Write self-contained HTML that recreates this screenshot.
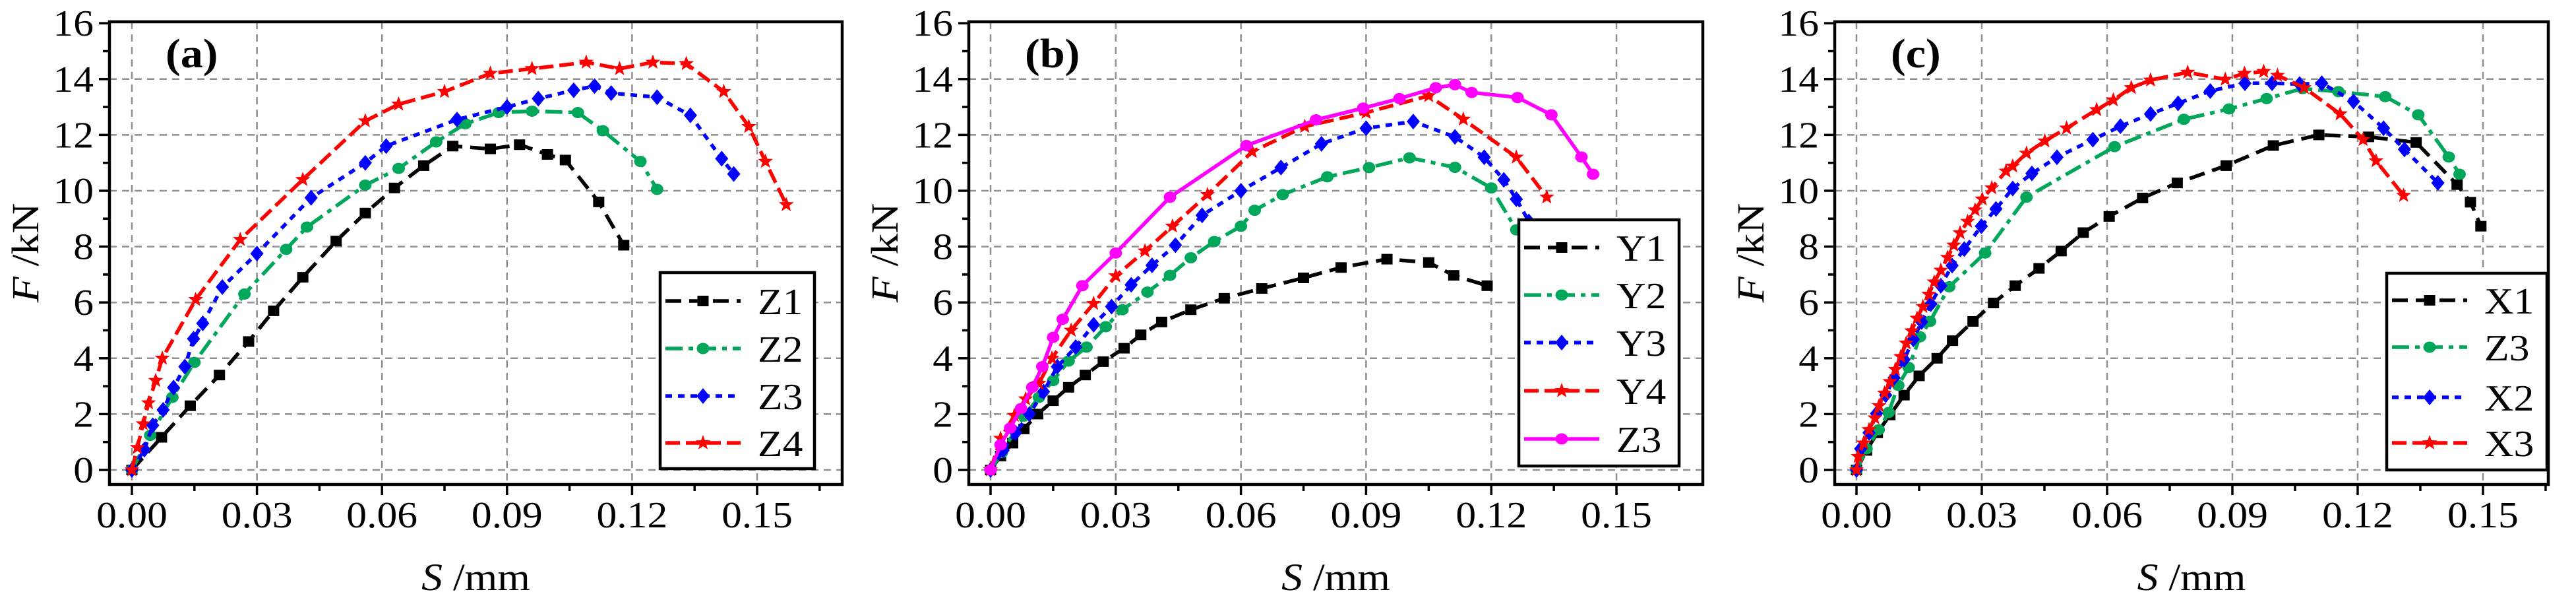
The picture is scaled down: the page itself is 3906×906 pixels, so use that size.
<!DOCTYPE html>
<html><head><meta charset="utf-8"><style>
html,body{margin:0;padding:0;background:#fff;}
svg{display:block;}
text{font-family:"Liberation Serif","Times New Roman",serif;fill:#000;}
</style></head><body>
<svg id="chart" width="3906" height="906" viewBox="0 0 3906 906" xmlns="http://www.w3.org/2000/svg" font-family="Liberation Serif, serif"></svg>
<script>
// ---------- data ----------
const xTickLabels = ["0.00","0.03","0.06","0.09","0.12","0.15"];
const xTickValues = [0,0.03,0.06,0.09,0.12,0.15];
const yTickValues = [0,2,4,6,8,10,12,14,16];
const yTickLabels = ["0","2","4","6","8","10","12","14","16"];

// panel (a)
const aZ1x=[0,0.0071,0.014,0.021,0.028,0.034,0.041,0.049,0.056,0.063,0.070,0.077,0.086,0.093,0.0997,0.104,0.112,0.118];
const aZ1y=[0,1.17,2.3,3.4,4.6,5.7,6.9,8.2,9.2,10.1,10.9,11.6,11.5,11.65,11.3,11.1,9.6,8.05];
const aZ2x=[0,0.0044,0.0097,0.015,0.027,0.037,0.042,0.056,0.064,0.073,0.080,0.088,0.096,0.107,0.113,0.122,0.126];
const aZ2y=[0,1.24,2.6,3.85,6.3,7.9,8.7,10.2,10.8,11.75,12.4,12.8,12.85,12.8,12.15,11.05,10.05];
const aZ3x=[0,0.003,0.005,0.0075,0.010,0.0127,0.0148,0.017,0.0217,0.030,0.043,0.056,0.061,0.078,0.090,0.0975,0.106,0.111,0.115,0.126,0.134,0.1415,0.1444];
const aZ3y=[0,0.73,1.6,2.15,2.95,3.7,4.7,5.25,6.55,7.75,9.75,11.0,11.6,12.55,13.0,13.3,13.6,13.75,13.5,13.35,12.7,11.15,10.6];
const aZ4x=[0,0.0013,0.0027,0.004,0.0057,0.0073,0.0153,0.026,0.041,0.056,0.064,0.075,0.086,0.096,0.109,0.117,0.125,0.133,0.142,0.148,0.152,0.157];
const aZ4y=[0,0.8,1.65,2.4,3.2,4.0,6.1,8.25,10.4,12.5,13.1,13.55,14.2,14.37,14.6,14.37,14.6,14.55,13.55,12.3,11.05,9.5];

// panel (b)
const bY1x=[0,0.0024,0.0053,0.008,0.0113,0.015,0.0187,0.0227,0.027,0.032,0.036,0.041,0.048,0.056,0.065,0.075,0.084,0.095,0.105,0.111,0.119];
const bY1y=[0,0.5,0.96,1.47,2.0,2.48,2.96,3.4,3.88,4.36,4.84,5.3,5.74,6.15,6.5,6.88,7.25,7.55,7.43,6.97,6.6];
const bY2x=[0,0.0027,0.008,0.0116,0.015,0.0187,0.023,0.0276,0.0316,0.0376,0.043,0.048,0.0536,0.060,0.0633,0.070,0.0807,0.0907,0.1004,0.1113,0.12,0.126];
const bY2y=[0,0.62,1.93,2.6,3.2,3.9,4.4,5.13,5.74,6.37,6.97,7.6,8.18,8.73,9.3,9.86,10.5,10.83,11.18,10.84,10.1,8.6];
const bY3x=[0,0.003,0.006,0.0093,0.0127,0.016,0.0204,0.0247,0.029,0.0337,0.0387,0.0443,0.0507,0.060,0.0696,0.0793,0.090,0.1013,0.1113,0.1183,0.123,0.126,0.129];
const bY3y=[0,0.7,1.33,2.0,2.8,3.7,4.4,5.2,5.85,6.63,7.33,8.05,9.12,10.0,10.83,11.68,12.24,12.48,11.93,11.2,10.39,9.7,8.9];
const bY4x=[0,0.0024,0.0057,0.0084,0.0116,0.0147,0.0193,0.0247,0.030,0.037,0.0436,0.052,0.0627,0.0753,0.090,0.105,0.1133,0.126,0.1333];
const bY4y=[0,1.13,1.95,2.54,3.1,4.0,5.0,5.96,6.95,7.84,8.73,9.86,11.4,12.3,12.8,13.4,12.56,11.2,9.77];
const bZ3x=[0,0.0024,0.0047,0.0073,0.01,0.0124,0.015,0.0173,0.022,0.030,0.043,0.0613,0.078,0.0893,0.098,0.1067,0.1113,0.1153,0.1263,0.1344,0.1416,0.1444];
const bZ3y=[0,0.9,1.5,2.2,2.96,3.7,4.75,5.4,6.6,7.77,9.77,11.62,12.54,12.96,13.3,13.69,13.8,13.52,13.34,12.72,11.21,10.59];

// panel (c)
const cX1x=[0,0.0024,0.005,0.008,0.0114,0.015,0.0193,0.023,0.0279,0.0328,0.038,0.0437,0.049,0.0543,0.0605,0.0685,0.0768,0.0885,0.0998,0.1107,0.1226,0.134,0.1438,0.147,0.1495];
const cX1y=[0,0.7,1.33,1.97,2.68,3.37,4.0,4.63,5.32,5.98,6.6,7.22,7.84,8.5,9.08,9.74,10.28,10.9,11.62,12.0,11.93,11.73,10.22,9.59,8.73];
const cZ3x=[0,0.0024,0.0053,0.0077,0.01,0.0125,0.0152,0.0176,0.0222,0.0308,0.0407,0.0618,0.0784,0.0892,0.0982,0.1068,0.1154,0.1266,0.1345,0.1418,0.1444];
const cZ3y=[0,0.76,1.44,2.06,3.03,3.67,4.77,5.32,6.56,7.77,9.77,11.58,12.56,12.93,13.3,13.66,13.55,13.37,12.72,11.21,10.59];
const cX2x=[0,0.001,0.003,0.0048,0.007,0.009,0.0114,0.0136,0.0156,0.0178,0.0202,0.0229,0.0258,0.0299,0.0334,0.0374,0.042,0.048,0.0566,0.0632,0.0704,0.077,0.0847,0.093,0.0995,0.1061,0.1114,0.119,0.1262,0.1312,0.1392];
const cX2y=[0,0.76,1.33,2.02,2.68,3.3,3.95,4.68,5.3,5.94,6.6,7.32,7.91,8.73,9.35,10.08,10.62,11.2,11.83,12.31,12.75,13.13,13.57,13.85,13.85,13.82,13.85,13.2,12.24,11.48,10.28];
const cX3x=[0,0.0004,0.0017,0.003,0.0044,0.0054,0.0067,0.008,0.0093,0.0106,0.0119,0.0132,0.0145,0.0159,0.0173,0.0186,0.0202,0.0218,0.0233,0.0248,0.0266,0.0284,0.0301,0.0324,0.0358,0.0374,0.0407,0.0451,0.0503,0.0575,0.0615,0.0658,0.0704,0.0793,0.0883,0.0929,0.0975,0.1008,0.1072,0.1158,0.1213,0.1244,0.131];
const cX3y=[0,0.48,0.96,1.44,1.86,2.3,2.75,3.16,3.6,4.06,4.54,4.98,5.43,5.85,6.29,6.73,7.15,7.61,8.05,8.49,8.9,9.31,9.7,10.1,10.7,10.88,11.34,11.78,12.24,12.9,13.25,13.69,13.96,14.24,13.99,14.2,14.27,14.13,13.69,12.75,11.83,11.07,9.83];

// ---------- rendering ----------
const NS="http://www.w3.org/2000/svg";
const svg=document.getElementById('chart');
function mk(tag,attrs,parent){const e=document.createElementNS(NS,tag);for(const k in attrs)e.setAttribute(k,attrs[k]);(parent||svg).appendChild(e);return e;}

const STY={
 black:{color:'#000',dash:'24,12',marker:'square'},
 green:{color:'#00a65a',dash:'26,9,7,9',marker:'circle'},
 blue:{color:'#0000ff',dash:'10,9',marker:'diamond'},
 red:{color:'#ff0000',dash:'22,9',marker:'star'},
 magenta:{color:'#ff00ff',dash:'',marker:'circle'}
};
function marker(g,type,cx,cy,color){
 let e;
 if(type==='square'){e=mk('rect',{x:cx-8.5,y:cy-8,width:17,height:16,fill:color},g);}
 else if(type==='circle'){e=mk('ellipse',{cx:cx,cy:cy,rx:9.5,ry:8.5,fill:color},g);}
 else if(type==='diamond'){e=mk('polygon',{points:`${cx},${cy-12} ${cx+10},${cy} ${cx},${cy+12} ${cx-10},${cy}`,fill:color},g);}
 else {let p=[];for(let i=0;i<10;i++){const r=i%2?5:12;const a=-Math.PI/2+i*Math.PI/5;p.push((cx+r*Math.cos(a)).toFixed(1)+','+(cy+r*Math.sin(a)).toFixed(1));}
  e=mk('polygon',{points:p.join(' '),fill:color},g);}
 
 
}
function txt(g,x,y,s,size,anchor,extra){
 const t=mk('text',{x:0,y:0,'font-size':size,'font-family':'Liberation Serif, serif','text-anchor':anchor||'start',transform:`translate(${x},${y}) scale(1.1,1)`},g);
 if(extra)for(const k in extra)t.setAttribute(k,extra[k]);
 t.textContent=s;return t;
}

const panels=[
 {id:'a',label:'(a)',x0:200,ppx:6320,L:166,R:1277,legend:{x:1001,y:413,w:234,h:297,rows:[456,528,600,671]},
  series:[['Z1',aZ1x,aZ1y,'black'],['Z2',aZ2x,aZ2y,'green'],['Z3',aZ3x,aZ3y,'blue'],['Z4',aZ4x,aZ4y,'red']]},
 {id:'b',label:'(b)',x0:1502,ppx:6327,L:1469,R:2582,legend:{x:2303,y:333,w:243,h:373,rows:[375,447,519,592,665]},
  series:[['Y1',bY1x,bY1y,'black'],['Y2',bY2x,bY2y,'green'],['Y3',bY3x,bY3y,'blue'],['Y4',bY4x,bY4y,'red'],['Z3',bZ3x,bZ3y,'magenta']]},
 {id:'c',label:'(c)',x0:2815,ppx:6333,L:2782,R:3864,legend:{x:3619,y:414,w:243,h:298,rows:[455,526,602,671]},
  series:[['X1',cX1x,cX1y,'black'],['Z3',cZ3x,cZ3y,'green'],['X2',cX2x,cX2y,'blue'],['X3',cX3x,cX3y,'red']]}
];
const Y0=712,PY=42.3,T=33,B=734;

panels.forEach(p=>{
 const X=v=>p.x0+v*p.ppx, Y=v=>Y0-v*PY;
 const g=mk('g',{});
 
 
 const grid=mk('g',{stroke:'#909090','stroke-width':2.5,'stroke-dasharray':'11,8'},g);
 
 
 xTickValues.forEach(v=>mk('line',{x1:X(v),x2:X(v),y1:T,y2:B},grid));
 yTickValues.forEach(v=>{if(v<16)mk('line',{x1:p.L,x2:p.R,y1:Y(v),y2:Y(v)},grid);});
 const tk=mk('g',{stroke:'#000','stroke-width':3.5},g);
 
 
 for(let i=0;i<=11;i++){const v=i*0.015;const x=X(v);if(x>p.R)break;mk('line',{x1:x,x2:x,y1:B,y2:B+(i%2?10:16)},tk);}
 for(let v=0;v<=16;v++){mk('line',{x1:p.L,x2:p.L-(v%2?10:16),y1:Y(v),y2:Y(v)},tk);}
 const xl=mk('g',{},g);
 
 
 xTickValues.forEach((v,i)=>txt(xl,X(v),799,xTickLabels[i],56,'middle'));
 const yl=mk('g',{},g);
 
 
 yTickValues.forEach((v,i)=>txt(yl,p.L-24,Y(v)+19,yTickLabels[i],56,'end'));
 const xt=mk('text',{x:0,y:0,'font-size':58,'font-family':'Liberation Serif, serif','text-anchor':'middle',transform:`translate(${(p.L+p.R)/2},894) scale(1.1,1)`},g);
 
 
 xt.innerHTML='<tspan font-style="italic">S</tspan> /mm';
 const yt=mk('text',{x:0,y:0,'font-size':58,'font-family':'Liberation Serif, serif','text-anchor':'middle',transform:`translate(${p.L-108},383) rotate(-90) scale(1.1,1)`},g);
 
 
 yt.innerHTML='<tspan font-style="italic">F</tspan> /kN';
 const pl=txt(g,p.L+85,102,p.label,62,'start',{'font-weight':'bold'});
 
 
 p.series.forEach(s=>{
  const st=STY[s[3]];
  const sg=mk('g',{},g);
  
  
  const pts=s[1].map((v,i)=>X(v).toFixed(1)+','+Y(s[2][i]).toFixed(1)).join(' ');
  const line=mk('polyline',{points:pts,fill:'none',stroke:st.color,'stroke-width':5.5,'stroke-linejoin':'round'},sg);
  if(st.dash)line.setAttribute('stroke-dasharray',st.dash);
  
  
  s[1].forEach((v,i)=>marker(sg,st.marker,X(v),Y(s[2][i]),st.color));
 });
 const box=mk('rect',{x:p.L,y:T,width:p.R-p.L,height:B-T,fill:'none',stroke:'#000','stroke-width':4.5},g);
 
 
 const lg=p.legend;
 const leg=mk('g',{},g);
 
 
 mk('rect',{x:lg.x,y:lg.y,width:lg.w,height:lg.h,fill:'#fff',stroke:'#000','stroke-width':4.5},leg);
 p.series.forEach((s,i)=>{
  const st=STY[s[3]];const y=lg.rows[i];
  const e=mk('g',{},leg);
  
  
  const l=mk('line',{x1:lg.x+8,x2:lg.x+122,y1:y,y2:y,stroke:st.color,'stroke-width':5.5},e);
  if(st.dash)l.setAttribute('stroke-dasharray',st.dash);
  marker(e,st.marker,lg.x+65,y,st.color);
  txt(e,lg.x+148,y+20,s[0],56,'start');
 });
});
</script>
</body></html>
